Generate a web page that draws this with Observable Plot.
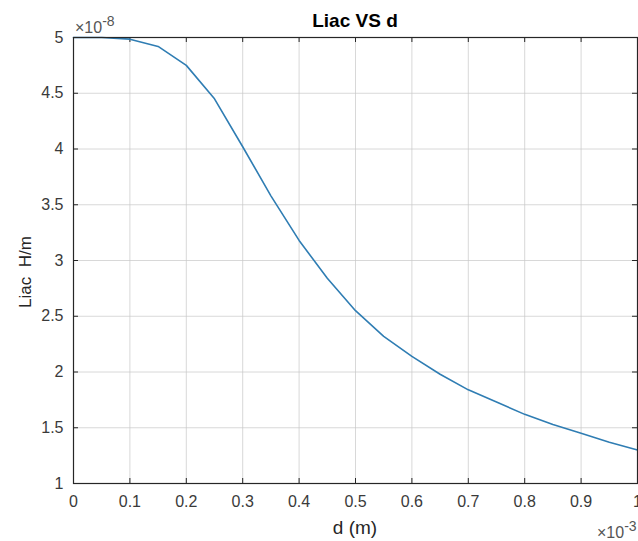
<!DOCTYPE html>
<html><head><meta charset="utf-8">
<script src="https://cdn.jsdelivr.net/npm/d3@7"></script>
<script src="https://cdn.jsdelivr.net/npm/@observablehq/plot@0.6"></script>
<style>body{margin:0;background:#fff} svg{display:block}</style>
</head><body><div id="chart"></div>
<script>
// d in units of 1e-3 m, Liac in units of 1e-8 H/m
const dValues = [0, 0.05, 0.1, 0.15, 0.2, 0.25, 0.3, 0.35, 0.4, 0.45, 0.5, 0.55, 0.6, 0.65, 0.7, 0.75, 0.8, 0.85, 0.9, 0.95, 1.0];
const liacValues = [5.00, 5.00, 4.985, 4.92, 4.75, 4.45, 4.02, 3.58, 3.18, 2.84, 2.55, 2.32, 2.14, 1.98, 1.84, 1.73, 1.62, 1.53, 1.45, 1.37, 1.30];
const xTicks = [0, 0.1, 0.2, 0.3, 0.4, 0.5, 0.6, 0.7, 0.8, 0.9, 1];
const xTickLabels = ["0", "0.1", "0.2", "0.3", "0.4", "0.5", "0.6", "0.7", "0.8", "0.9", "1"];
const yTicks = [1, 1.5, 2, 2.5, 3, 3.5, 4, 4.5, 5];
const yTickLabels = ["1", "1.5", "2", "2.5", "3", "3.5", "4", "4.5", "5"];
const titleText = "Liac VS d";
const xLabel = "d (m)";
const yLabel = "Liac  H/m";
const xExponent = "-3";
const yExponent = "-8";

const data = dValues.map((d, i) => ({d, L: liacValues[i]}));

const W = 638, H = 541;
const mL = 73, mR = 1, mT = 37, mB = 58;
const pw = W - mL - mR, ph = H - mT - mB;
const tickLen = 5;
const font = "Liberation Sans, Arial, Helvetica, sans-serif";
const textColor = "#262626";

const chart = Plot.plot({
  width: W, height: H,
  marginLeft: mL, marginRight: mR, marginTop: mT, marginBottom: mB,
  style: {fontFamily: font, fontSize: "16px", color: textColor, background: "#fff"},
  x: {domain: [0, 1], ticks: xTicks, tickFormat: (d, i) => xTickLabels[i], label: null},
  y: {domain: [1, 5], ticks: yTicks, tickFormat: (d, i) => yTickLabels[i], label: null},
  marks: [
    Plot.gridX(xTicks, {stroke: "#c8c8c8", strokeOpacity: 0.7}),
    Plot.gridY(yTicks, {stroke: "#c8c8c8", strokeOpacity: 0.7}),
    Plot.axisX(xTicks, {tickSize: 0, tickPadding: 12, tickFormat: (d, i) => xTickLabels[i], fontSize: 16, fill: "#3a3a3a", label: null}),
    Plot.axisY(yTicks, {tickSize: 0, tickPadding: 10, tickFormat: (d, i) => yTickLabels[i], fontSize: 16, fill: "#3a3a3a", label: null}),
    // inward ticks on all four sides
    Plot.tickX(xTicks, {x: d => d, insetTop: ph - tickLen, stroke: "#262626"}),
    Plot.tickX(xTicks, {x: d => d, insetBottom: ph - tickLen, stroke: "#262626"}),
    Plot.tickY(yTicks, {y: d => d, insetRight: pw - tickLen, stroke: "#262626"}),
    Plot.tickY(yTicks, {y: d => d, insetLeft: pw - tickLen, stroke: "#262626"}),
    Plot.line(data, {x: "d", y: "L", stroke: "#2f7db3", strokeWidth: 1.6}),
    Plot.frame({stroke: "#262626", strokeWidth: 1.2})
  ]
});

const svg = d3.select(chart);
const cx = mL + pw / 2;
svg.append("text").attr("x", cx).attr("y", 27).attr("text-anchor", "middle")
  .attr("font-family", font).attr("font-size", 19).attr("font-weight", "bold").attr("fill", "#000").text(titleText);
svg.append("text").attr("x", cx).attr("y", 534).attr("text-anchor", "middle")
  .attr("font-family", font).attr("font-size", 19).attr("fill", textColor).text(xLabel);
svg.append("text").attr("transform", `translate(31,272) rotate(-90)`).attr("text-anchor", "middle")
  .attr("font-family", font).attr("font-size", 17).attr("fill", textColor).text(yLabel);
// exponent labels
function expo(x, y, exp, anchor) {
  const t = svg.append("text").attr("x", x).attr("y", y).attr("text-anchor", anchor)
    .attr("font-family", font).attr("font-size", 16).attr("fill", "#555");
  t.append("tspan").text("\u00d710");
  t.append("tspan").attr("dy", -7).attr("font-size", 14).text(exp);
}
expo(75, 33, yExponent, "start");
expo(597, 538, xExponent, "start");

document.getElementById("chart").append(chart);
</script>
</body></html>
